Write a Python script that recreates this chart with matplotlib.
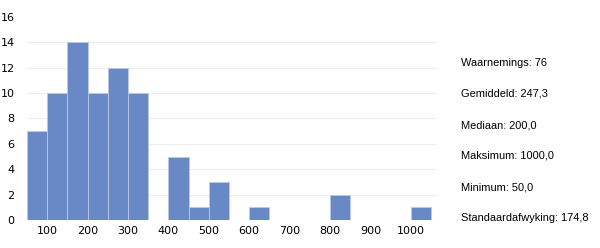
import matplotlib
matplotlib.use('Agg')
import matplotlib.pyplot as plt
import numpy as np

# histogram bins (width 50) and counts
bin_left = np.arange(50, 1050, 50)
counts = [7, 10, 14, 10, 12, 10, 0, 5, 1, 3, 0, 1, 0, 0, 0, 2, 0, 0, 0, 1]

stats_labels = ['Waarnemings: 76', 'Gemiddeld: 247,3', 'Mediaan: 200,0',
                'Maksimum: 1000,0', 'Minimum: 50,0', 'Standaardafwyking: 174,8']

fig = plt.figure(figsize=(6, 2.48), dpi=100)
fig.patch.set_facecolor('white')
ax = fig.add_axes([27 / 600, 1 - 220 / 248, 410 / 600, 203 / 248])

ax.bar(bin_left, counts, width=50, align='edge', color='#6889c6',
       edgecolor='#b9c9e6', linewidth=0.6, zorder=2)

ax.set_xlim(50, 1065)
ax.set_ylim(0, 16)
ax.set_yticks(range(0, 17, 2))
ax.set_xticks(range(100, 1001, 100))
ax.grid(axis='y', color='#eeeeee', linewidth=0.8, zorder=0)
ax.get_ygridlines()[-1].set_visible(False)
for s in ax.spines.values():
    s.set_visible(False)
ax.tick_params(length=0, labelsize=8, colors='black', pad=4)
ax.tick_params(axis='y', pad=9)

for i, t in enumerate(stats_labels):
    fig.text(461 / 600, 1 - (63 + i * 31) / 248, t, fontsize=7.9,
             family='Liberation Sans', va='center', ha='left')

plt.savefig('out.png', dpi=100, facecolor='white')
